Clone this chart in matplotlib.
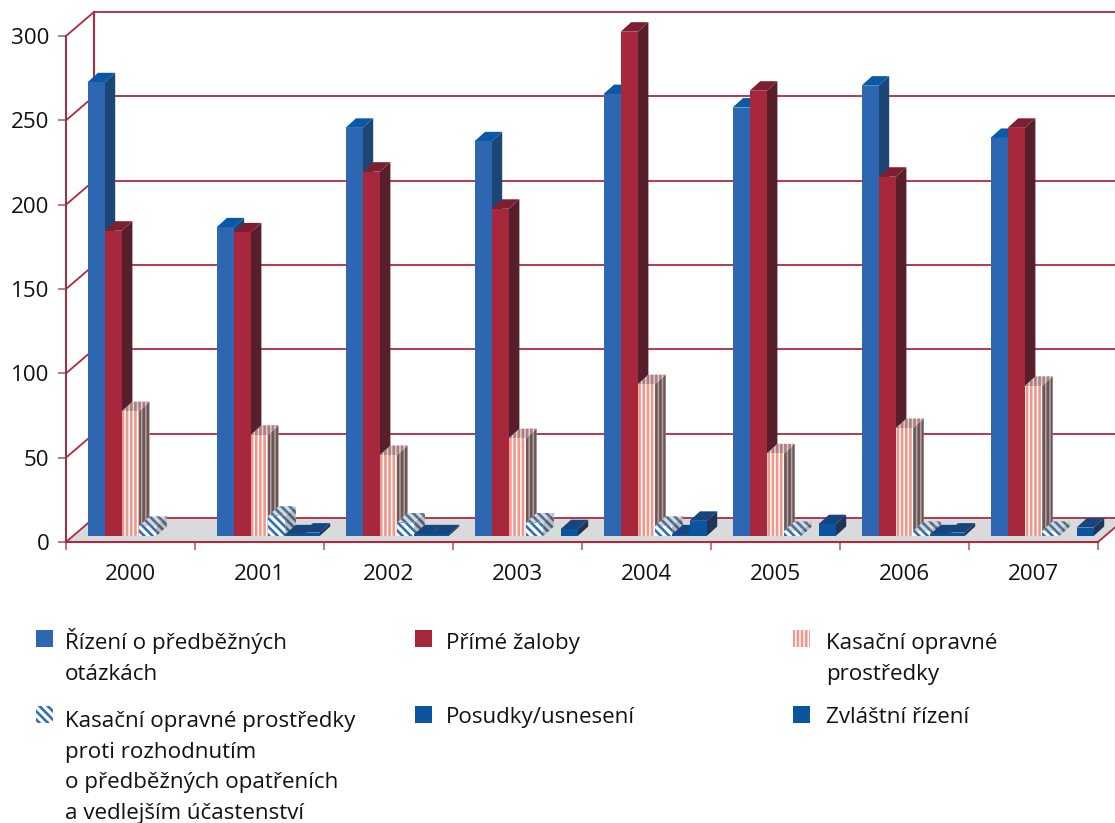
import matplotlib
matplotlib.use("Agg")
import matplotlib.pyplot as plt
from matplotlib.patches import Polygon, Rectangle

plt.rcParams['font.family'] = ['Open Sans', 'DejaVu Sans']
plt.rcParams['hatch.linewidth'] = 1.9

years = ["2000", "2001", "2002", "2003", "2004", "2005", "2006", "2007"]
predbezne = [269, 183, 242, 234, 262, 254, 267, 236]
prime = [181, 180, 216, 194, 299, 264, 213, 242]
kasacni = [74, 60, 48, 58, 90, 49, 64, 89]
kasacni_opatreni = [6, 12, 8, 8, 6, 3, 3, 3]
posudky = [0, 1, 1, 0, 1, 0, 1, 0]
zvlastni = [0, 2, 1, 4, 9, 7, 2, 5]

W, H = 1115, 823
PX_X = 129.0   # pixels per category
PX_Y = 506 / 300.0   # pixels per value unit
RED = "#b02a3e"
TEXT = "#111111"
FONT = 16.1

PINK_HATCH = "||||"
DIAG_HATCH = "\\\\\\\\"

# face, side, top as (colour, hatch colour, hatch)
blue_style = (("#2e67b1", None, None), ("#1c4675", None, None), ("#0b58a6", None, None))
red_style = (("#a7283c", None, None), ("#571f2b", None, None), ("#7d1f32", None, None))
pink_style = (("#ffffff", "#f2978c", PINK_HATCH), ("#b3a3a3", "#6a5557", PINK_HATCH),
              ("#e6cfcf", "#a87f82", PINK_HATCH))
diag_style = (("#ffffff", "#2e6fb5", DIAG_HATCH), ("#b5bec8", "#4f5f72", DIAG_HATCH),
              ("#d5d8da", "#4f6f92", DIAG_HATCH))
navy_style = (("#0b55a0", None, None), ("#1f3557", None, None), ("#17467f", None, None))

series = [
    (predbezne, blue_style),
    (prime, red_style),
    (kasacni, pink_style),
    (kasacni_opatreni, diag_style),
    (posudky, navy_style),
    (zvlastni, navy_style),
]

legend_items = [
    (36, 630, blue_style, 65, 649, ["Řízení o předběžných", "otázkách"]),
    (415, 630, red_style, 446, 649, ["Přímé žaloby"]),
    (793, 630, pink_style, 826, 649, ["Kasační opravné", "prostředky"]),
    (36, 706, diag_style, 65, 727,
     ["Kasační opravné prostředky", "proti rozhodnutím",
      "o předběžných opatřeních", "a vedlejším účastenství"]),
    (415, 706, navy_style, 446, 723, ["Posudky/usnesení"]),
    (793, 706, navy_style, 826, 723, ["Zvláštní řízení"]),
]


def patch_kw(style):
    color, hatch_color, hatch = style
    if hatch_color is None:
        return dict(facecolor=color, edgecolor=color, linewidth=0)
    return dict(facecolor=color, edgecolor=hatch_color, hatch=hatch, linewidth=0)


def draw_walls(ax):
    wall_dx = 28 / PX_X
    wall_dy = 24 / PX_Y
    right = 8.0
    floor = [(0, 0), (wall_dx, wall_dy), (right + wall_dx, wall_dy), (right, 0)]
    ax.add_patch(Polygon(floor, closed=True, facecolor="#d9dadc", edgecolor="none", clip_on=False, zorder=1))

    for v in [50, 100, 150, 200, 250, 300, 0]:
        y = v + wall_dy
        ax.plot([wall_dx, right + wall_dx], [y, y], color=RED, lw=1.3, clip_on=False, zorder=2)
        ax.plot([0, wall_dx], [v, y], color=RED, lw=1.3, clip_on=False, zorder=2)
    ax.plot([wall_dx, wall_dx], [wall_dy, 300 + wall_dy], color=RED, lw=1.5, clip_on=False, zorder=2)
    ax.plot([0, right], [0, 0], color=RED, lw=1.5, clip_on=False, zorder=3)
    ax.plot([right, right + wall_dx], [0, wall_dy], color=RED, lw=1.3, clip_on=False, zorder=3)
    ax.plot([0, 0], [0, 300], color="#8e3a46", lw=1.5, clip_on=False, zorder=3)


def draw_bars(ax):
    bar_w = 17.2 / PX_X
    first = 21.5 / PX_X
    base = 6.0 / PX_Y
    depth_x = 10.5 / PX_X
    depth_y = 9.5 / PX_Y
    z = 5
    for i in range(len(years)):
        for k, (values, style) in enumerate(series):
            v = values[i]
            if v <= 0:
                continue
            x0 = i + first + k * bar_w
            x1 = x0 + bar_w
            top = base + v
            side_pts = [(x1, base), (x1 + depth_x, base + depth_y), (x1 + depth_x, top + depth_y), (x1, top)]
            top_pts = [(x0, top), (x0 + depth_x, top + depth_y), (x1 + depth_x, top + depth_y), (x1, top)]
            ax.add_patch(Polygon(side_pts, closed=True, clip_on=False, zorder=z, **patch_kw(style[1])))
            ax.add_patch(Polygon(top_pts, closed=True, clip_on=False, zorder=z, **patch_kw(style[2])))
            ax.bar(x0, v, width=bar_w, bottom=base, align="edge", clip_on=False, zorder=z + 0.5, **patch_kw(style[0]))
            z += 1


def draw_legend(fig):
    for sx, sy, style, tx, ty, lines in legend_items:
        fig.add_artist(Rectangle((sx / W, 1 - (sy + 17) / H), 17 / W, 17 / H, transform=fig.transFigure,
                                 **patch_kw(style[0])))
        for n, line in enumerate(lines):
            fig.text(tx / W, 1 - (ty + n * 30.6) / H, line, fontsize=FONT, color=TEXT, va="baseline", ha="left")


fig = plt.figure(figsize=(W / 100, H / 100), dpi=100)
ax = fig.add_axes([66 / W, 1 - 542 / H, 1032 / W, 506 / H])
ax.set_xlim(0, 8)
ax.set_ylim(0, 300)
for s in ax.spines.values():
    s.set_visible(False)

draw_walls(ax)
draw_bars(ax)

ax.set_yticks([0, 50, 100, 150, 200, 250, 300])
ax.tick_params(axis="y", length=6, width=1.2, color="#b5606c", labelsize=FONT, pad=6, labelcolor=TEXT)
ax.set_xticks(range(9))
ax.set_xticklabels([])
ax.tick_params(axis="x", length=6, width=1.2, color="#b5606c")
ax.set_xticks([i + 0.5 for i in range(8)], minor=True)
ax.set_xticklabels(years, minor=True, fontsize=FONT, color=TEXT)
ax.tick_params(axis="x", which="minor", length=0, pad=16)

draw_legend(fig)

fig.savefig("out.png", dpi=100)
